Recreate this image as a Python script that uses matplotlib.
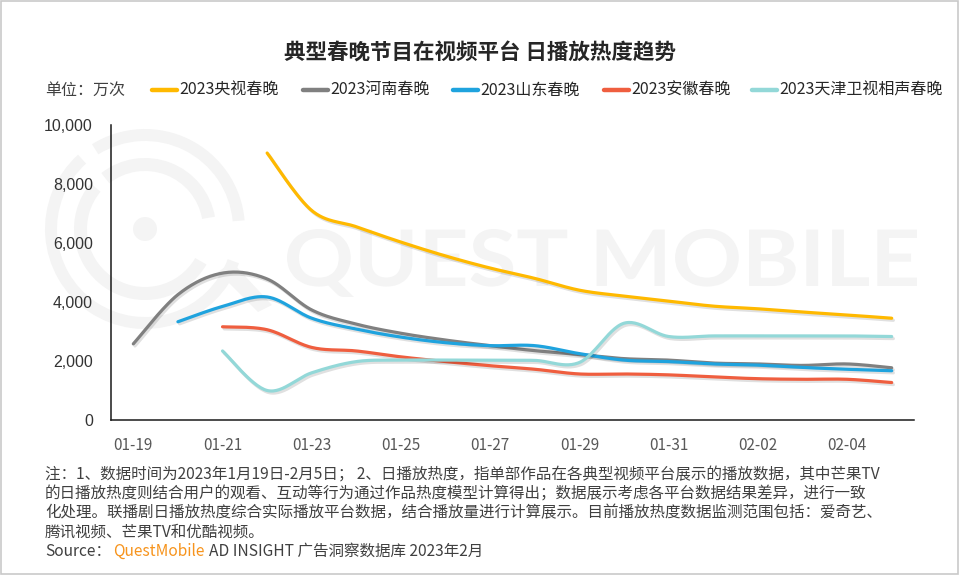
import numpy as np
import matplotlib
matplotlib.use('Agg')
import matplotlib.pyplot as plt
from matplotlib.patches import PathPatch, Wedge, Circle, Rectangle, Polygon
from matplotlib.textpath import TextPath
from matplotlib.font_manager import FontProperties
from matplotlib.transforms import Affine2D
import matplotlib.patheffects as pe
from matplotlib.lines import Line2D

plt.rcParams['font.family'] = ['Noto Sans CJK SC', 'DejaVu Sans']

# ---------------- data ----------------
dates = ['01-19', '01-20', '01-21', '01-22', '01-23', '01-24', '01-25', '01-26', '01-27',
         '01-28', '01-29', '01-30', '01-31', '02-01', '02-02', '02-03', '02-04', '02-05']
tick_labels = dates[::2]
series_names = ['2023央视春晚', '2023河南春晚', '2023山东春晚', '2023安徽春晚', '2023天津卫视相声春晚']
cctv = [None, None, None, 9050, 7100, 6550, 6030, 5560, 5150, 4800, 4400, 4200, 4030, 3860, 3770, 3660, 3560, 3450]
henan = [2580, 4250, 4980, 4780, 3730, 3250, 2940, 2710, 2520, 2350, 2220, 2080, 2030, 1930, 1900, 1850, 1900, 1770]
shandong = [None, 3330, 3850, 4170, 3450, 3080, 2810, 2620, 2520, 2520, 2250, 2030, 1980, 1900, 1860, 1780, 1720, 1670]
anhui = [None, None, 3160, 3060, 2460, 2340, 2140, 1980, 1840, 1720, 1560, 1560, 1530, 1460, 1400, 1380, 1380, 1270]
tianjin = [None, None, 2340, 1000, 1600, 1980, 2030, 2030, 2030, 2020, 1950, 3280, 2830, 2850, 2850, 2850, 2850, 2830]
series_values = [cctv, henan, shandong, anhui, tianjin]
colors = ['#FFB900', '#808080', '#1FA3DE', '#EF5E3F', '#93D8D8']
y_ticks = [0, 2000, 4000, 6000, 8000, 10000]


def smooth(xs, ys, n=30):
    """Excel-style smooth line (Catmull-Rom Bezier) through the valid points."""
    P = np.array([(x, y) for x, y in zip(xs, ys) if y is not None], float)
    m = len(P)
    out = [P[0]]
    t = np.linspace(0, 1, n)[1:, None]
    for i in range(m - 1):
        p0 = P[i - 1] if i > 0 else P[i]
        p1, p2 = P[i], P[i + 1]
        p3 = P[i + 2] if i + 2 < m else P[i + 1]
        c1 = p1 + (p2 - p0) / 6.0
        c2 = p2 - (p3 - p1) / 6.0
        seg = (1 - t) ** 3 * p1 + 3 * (1 - t) ** 2 * t * c1 + 3 * (1 - t) * t ** 2 * c2 + t ** 3 * p2
        out.extend(seg)
    out = np.array(out)
    return out[:, 0], out[:, 1]


W, H = 960, 576
fig = plt.figure(figsize=(W / 100, H / 100), dpi=100)
fig.patch.set_facecolor('white')

# background overlay in pixel coordinates (y downward)
bg = fig.add_axes([0, 0, 1, 1], zorder=0)
bg.set_xlim(0, W)
bg.set_ylim(H, 0)
bg.axis('off')

wm = '#f4f4f4'
# watermark logo (concentric rings + dot)
cx, cy = 145, 229
bg.add_patch(Circle((cx, cy), 12, color=wm, lw=0))
bg.add_patch(Wedge((cx, cy), 100, 20, 228, width=12, color=wm, lw=0))
bg.add_patch(Wedge((cx, cy), 100, 238, 355, width=12, color=wm, lw=0))
bg.add_patch(Wedge((cx, cy), 71, 30, 220, width=13, color=wm, lw=0))
bg.add_patch(Wedge((cx, cy), 71, 232, 350, width=13, color=wm, lw=0))
bg.add_patch(Polygon([(218, 272), (232, 262), (272, 305), (258, 312)], closed=True, color=wm, lw=0))

# watermark text
fp = FontProperties(family='Lato', weight='bold')
tp = TextPath((0, 0), 'QUEST MOBILE', size=100, prop=fp)
ext = tp.get_extents()
x0, x1, y0, y1 = 287, 917, 229, 297
tr = Affine2D().translate(-ext.x0, -ext.y0).scale((x1 - x0) / ext.width, -(y1 - y0) / ext.height).translate(x0, y1)
bg.add_patch(PathPatch(tr.transform_path(tp), color=wm, lw=0))

# frame
bg.add_patch(Rectangle((0.8, 0.8), W - 2.6, H - 2.6, fill=False, ec='#c9c9c9', lw=1.2))

# title
bg.text(480, 53, '典型春晚节目在视频平台 日播放热度趋势', ha='center', va='center',
        fontsize=15.5, fontweight='bold', color='#262626')

# legend row
bg.text(45, 90, '单位：万次', ha='left', va='center', fontsize=11.5, color='#404040')
leg_line_x = [150, 301, 451, 602, 750]
for lx, name, c in zip(leg_line_x, series_names, colors):
    bg.add_line(Line2D([lx + 2, lx + 27], [90, 90], color=c, lw=3.2, solid_capstyle='round'))
    bg.text(lx + 29, 90, name, ha='left', va='center', fontsize=11.5, color='#262626')

# footnote
note_lines = [
    '注：1、数据时间为2023年1月19日-2月5日； 2、日播放热度，指单部作品在各典型视频平台展示的播放数据，其中芒果TV',
    '的日播放热度则结合用户的观看、互动等行为通过作品热度模型计算得出；数据展示考虑各平台数据结果差异，进行一致',
    '化处理。联播剧日播放热度综合实际播放平台数据，结合播放量进行计算展示。目前播放热度数据监测范围包括：爱奇艺、',
    '腾讯视频、芒果TV和优酷视频。',
]
note_y = [475, 494, 513, 532]
for s, yy in zip(note_lines, note_y):
    bg.text(45, yy, s, ha='left', va='center', fontsize=11.2, color='#404040', fontweight='light')
bg.text(45, 551, 'Source：', ha='left', va='center', fontsize=11.2, color='#404040', fontweight='light')
bg.text(113, 551, 'QuestMobile', ha='left', va='center', fontsize=11.2, color='#F7941D', fontweight='light')
bg.text(209, 551, 'AD INSIGHT 广告洞察数据库 2023年2月', ha='left', va='center', fontsize=11.2,
        color='#404040', fontweight='light')

# ---------------- main chart ----------------
ax = fig.add_axes([111 / W, (H - 420) / H, (914 - 111) / W, (420 - 125) / H], zorder=2)
ax.set_facecolor('none')
ax.set_xlim(-0.5, len(dates) - 0.5)
ax.set_ylim(0, 10000)

x = np.arange(len(dates))
for vals, c in zip(series_values, colors):
    sx, sy = smooth(x, vals)
    ax.plot(sx, sy, color=c, lw=2.3, solid_capstyle='round',
            path_effects=[pe.SimpleLineShadow(offset=(1.2, -1.5), shadow_color='#000000', alpha=0.12),
                          pe.Normal()])

ax.set_xticks(x[::2])
ax.set_xticklabels(tick_labels, fontsize=11, color='#595959', fontweight='light')
ax.set_yticks(y_ticks)
ax.set_yticklabels([f'{v:,}' for v in y_ticks], fontsize=11.5, color='#333333',
                   fontfamily='Liberation Sans')
ax.tick_params(axis='both', length=0)
ax.tick_params(axis='x', pad=12)
ax.tick_params(axis='y', pad=13)
for s in ['top', 'right']:
    ax.spines[s].set_visible(False)
for s in ['left', 'bottom']:
    ax.spines[s].set_color('#1a1a1a')
    ax.spines[s].set_linewidth(1.1)

fig.savefig('out.png', dpi=100)
